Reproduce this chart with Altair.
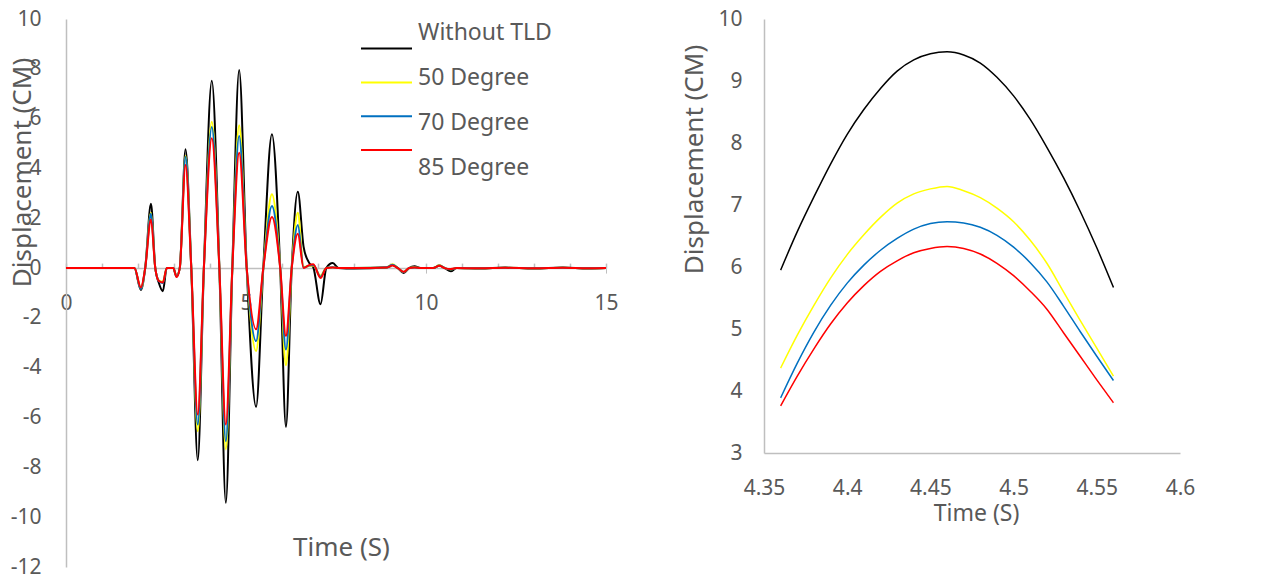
import altair as alt
import pandas as pd

SERIES = ["Without TLD", "50 Degree", "70 Degree", "85 Degree"]
COLORS = ["#000000", "#FFFF00", "#0070C0", "#FF0000"]
TEXT = "#595959"
AXIS = "#bfbfbf"
FONT = "Noto Sans"

# ---- full time history (left panel) ----
T_FULL = [0.0, 1.0, 1.9, 2.08, 2.2, 2.36, 2.48, 2.58, 2.69, 2.8,
          2.98, 3.07, 3.16, 3.32, 3.48, 3.66, 3.83, 4.05, 4.26, 4.44,
          4.62, 4.81, 5.02, 5.28, 5.48, 5.72, 5.95, 6.11, 6.27, 6.44,
          6.6, 6.75, 6.87, 7.07, 7.23, 7.41, 7.57, 8.0, 8.9, 9.07,
          9.22, 9.38, 9.53, 9.68, 9.85, 10.2, 10.37, 10.52, 10.69, 10.85,
          11.5, 12.2, 13.0, 13.8, 14.5, 15.0]
V_NO_TLD = [0, 0, 0, -0.88, 0, 2.58, 0, -0.6, -0.93, 0,
            0, -0.34, 0, 4.77, 0, -7.71, 0, 7.52, 0, -9.42,
            0, 7.95, 0, -5.57, 0, 5.37, 0, -6.37, 0, 3.06,
            0.85, 0.22, 0.03, -1.45, 0, 0.2, 0, -0.02, 0.02, 0.12,
            0, -0.2, 0, 0.07, 0, 0, 0.1, 0, -0.13, 0,
            -0.02, 0.02, -0.02, 0.02, -0.02, 0]
V_50 = [0, 0, 0, -0.82, 0, 2.22, 0, -0.5, -0.55, 0,
        0, -0.32, 0, 4.5, 0, -6.55, 0, 5.88, 0, -7.28,
        0, 5.73, 0, -3.33, 0, 2.96, 0, -3.9, 0, 2.22,
        0.05, 0.08, 0.1, -0.3, 0, 0.03, 0, 0, 0.03, 0.15,
        0, -0.16, 0, 0.03, 0, 0, 0.12, 0, -0.05, 0,
        -0.01, 0.01, -0.01, 0.01, -0.01, 0]
V_70 = [0, 0, 0, -0.84, 0, 2.18, 0, -0.52, -0.6, 0,
        0, -0.33, 0, 4.46, 0, -6.28, 0, 5.66, 0, -6.95,
        0, 5.3, 0, -2.93, 0, 2.49, 0, -3.27, 0, 1.73,
        0.02, 0.1, 0.12, -0.35, 0, 0.03, 0, 0, 0.03, 0.13,
        0, -0.16, 0, 0.02, 0, 0, 0.1, 0, -0.05, 0,
        -0.01, 0.01, -0.01, 0.01, -0.01, 0]
V_85 = [0, 0, 0, -0.78, 0, 1.95, 0, -0.52, -0.58, 0,
        0, -0.36, 0, 4.14, 0, -5.88, 0, 5.21, 0, -6.28,
        0, 4.63, 0, -2.46, 0, 2.05, 0, -2.73, 0, 1.38,
        0, 0.12, 0.15, -0.4, 0, 0.02, 0, 0, 0.02, 0.1,
        0, -0.15, 0, 0.02, 0, 0, 0.09, 0, -0.04, 0,
        -0.01, 0.01, -0.01, 0.01, -0.01, 0]

# ---- zoom around the largest peak (right panel) ----
T_ZOOM = [4.36, 4.37, 4.38, 4.39, 4.40, 4.41, 4.42, 4.43, 4.44, 4.45, 4.46,
          4.47, 4.48, 4.49, 4.50, 4.51, 4.52, 4.53, 4.54, 4.55, 4.56]
Z_NO_TLD = [5.95, 6.57, 7.13, 7.66, 8.14, 8.54, 8.88, 9.16, 9.34, 9.44, 9.47,
            9.42, 9.29, 9.06, 8.76, 8.38, 7.93, 7.44, 6.90, 6.31, 5.67]
Z_50 = [4.37, 4.90, 5.38, 5.82, 6.20, 6.52, 6.80, 7.03, 7.18, 7.26, 7.30,
        7.23, 7.12, 6.95, 6.73, 6.43, 6.06, 5.60, 5.14, 4.69, 4.24]
Z_70 = [3.89, 4.45, 4.95, 5.38, 5.74, 6.03, 6.27, 6.46, 6.61, 6.70, 6.73,
        6.71, 6.64, 6.51, 6.32, 6.07, 5.76, 5.37, 4.96, 4.56, 4.17]
Z_85 = [3.76, 4.24, 4.68, 5.08, 5.42, 5.70, 5.93, 6.10, 6.23, 6.30, 6.33,
        6.30, 6.21, 6.06, 5.86, 5.61, 5.32, 4.94, 4.56, 4.18, 3.81]

LEFT_X_TICKS = [0, 5, 10, 15]
LEFT_X_MINOR = list(range(0, 16))
LEFT_Y_TICKS = list(range(-12, 11, 2))
RIGHT_X_TICKS = [4.35, 4.4, 4.45, 4.5, 4.55, 4.6]
RIGHT_Y_TICKS = [3, 4, 5, 6, 7, 8, 9, 10]

HYPHEN_LABEL = "datum.value < 0 ? '-' + format(-datum.value, '~g') : format(datum.value, '~g')"


def long_table(t, columns):
    rows = []
    for name, vals in zip(SERIES, columns):
        assert len(vals) == len(t)
        for tt, vv in zip(t, vals):
            rows.append({"series": name, "t": tt, "v": vv})
    return pd.DataFrame(rows)


full_df = long_table(T_FULL, [V_NO_TLD, V_50, V_70, V_85])
zoom_df = long_table(T_ZOOM, [Z_NO_TLD, Z_50, Z_70, Z_85])
legend_df = pd.DataFrame({"series": SERIES})

color = alt.Color("series:N", scale=alt.Scale(domain=SERIES, range=COLORS), legend=None)

LW, LH = 540, 548
zero_from_bottom = LH * 12 / 22
zero_from_top = LH * 10 / 22

left_y = alt.Y(
    "v:Q",
    scale=alt.Scale(domain=[-12, 10], nice=False),
    axis=alt.Axis(values=LEFT_Y_TICKS, labelExpr=HYPHEN_LABEL,
                  title="Displacement (CM)", titleAngle=270,
                  titleX=-36, titleY=153, titleAlign="center", titleBaseline="alphabetic",
                  titleFontSize=26, titleFontWeight="normal", titleColor=TEXT,
                  ticks=False, tickSize=0, labelPadding=25, labelFontSize=21,
                  labelColor=TEXT, domainColor=AXIS, domainWidth=1.5, grid=False),
)

lines = alt.Chart(full_df).mark_line(strokeWidth=2, interpolate="monotone").encode(
    x=alt.X("t:Q", scale=alt.Scale(domain=[0, 15], nice=False),
            axis=alt.Axis(orient="bottom", offset=-zero_from_bottom, values=LEFT_X_TICKS,
                          format="d", labelFlush=False, title="Time (S)", titleX=275,
                          titleY=287, titleAlign="center", titleBaseline="alphabetic",
                          titleFontSize=26, titleFontWeight="normal", titleColor=TEXT,
                          tickSize=5, tickColor=AXIS, labelPadding=19, labelFontSize=21,
                          labelColor=TEXT, domainColor=AXIS, domainWidth=1.5, grid=False)),
    y=left_y,
    color=color,
)

minor = alt.Chart(full_df).mark_line(opacity=0).encode(
    x=alt.X("t:Q", scale=alt.Scale(domain=[0, 15], nice=False),
            axis=alt.Axis(orient="top", offset=-zero_from_top, values=LEFT_X_MINOR,
                          labels=False, domain=False, title=None, tickSize=5,
                          tickColor=AXIS, tickWidth=1.5, grid=False)),
    y=alt.Y("v:Q", scale=alt.Scale(domain=[-12, 10], nice=False), axis=None),
)

leg_y = alt.Y("series:N", scale=alt.Scale(domain=SERIES, range=[12.7, 148], padding=0), axis=None)
leg_rule = alt.Chart(legend_df).mark_rule(strokeWidth=2).encode(
    x=alt.value(295), x2=alt.value(346), y=leg_y, color=color)
leg_text = alt.Chart(legend_df).mark_text(align="left", baseline="middle", fontSize=23,
                                          color=TEXT, dy=1).encode(
    x=alt.value(352), y=leg_y, text="series:N")

left = alt.layer(lines, minor, leg_rule, leg_text).resolve_scale(
    y="independent").resolve_axis(x="independent").properties(width=LW, height=LH)

RW, RH = 416, 434
right = alt.Chart(zoom_df).mark_line(strokeWidth=1.5, interpolate="monotone").encode(
    x=alt.X("t:Q", scale=alt.Scale(domain=[4.35, 4.6], nice=False),
            axis=alt.Axis(values=RIGHT_X_TICKS, format=".3~g", labelFlush=False,
                          title="Time (S)", titleX=212, titleY=67, titleAlign="center",
                          titleBaseline="alphabetic", titleFontSize=23,
                          titleFontWeight="normal", titleColor=TEXT,
                          ticks=False, tickSize=0, labelPadding=24, labelFontSize=21,
                          labelColor=TEXT, domainColor=AXIS, domainWidth=1.5, grid=False)),
    y=alt.Y("v:Q", scale=alt.Scale(domain=[3, 10], nice=False),
            axis=alt.Axis(values=RIGHT_Y_TICKS, title="Displacement (CM)", titleAngle=270,
                          titleX=-62, titleY=140, titleAlign="center",
                          titleBaseline="alphabetic", titleFontSize=26,
                          titleFontWeight="normal", titleColor=TEXT,
                          ticks=False, tickSize=0, labelPadding=22, labelFontSize=21,
                          labelColor=TEXT, domainColor=AXIS, domainWidth=1.5, grid=False)),
    color=color,
).properties(width=RW, height=RH)

chart = alt.hconcat(left, right, spacing=158, bounds="flush", padding=0).configure(
    font=FONT).configure_view(stroke=None)

chart.save("out.html", embed_options={"renderer": "svg", "actions": False})
